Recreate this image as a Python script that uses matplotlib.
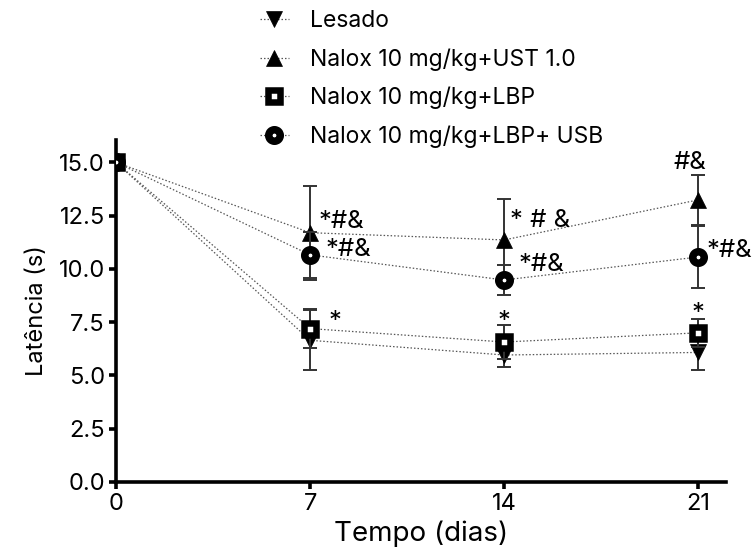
import matplotlib
matplotlib.use("Agg")
import matplotlib.pyplot as plt
from matplotlib.lines import Line2D

plt.rcParams['font.family'] = ['Inter', 'DejaVu Sans']

# Time points (days)
days = [0, 7, 14, 21]

groups = ["Lesado", "Nalox 10 mg/kg+UST 1.0", "Nalox 10 mg/kg+LBP",
          "Nalox 10 mg/kg+LBP+ USB"]

# Mean latency (s) and error per group
lesado_mean = [15.0, 6.65, 5.96, 6.08]
lesado_err = [0.0, 1.40, 0.56, 0.84]
ust_mean = [15.0, 11.70, 11.36, 13.24]
ust_err = [0.0, 2.20, 1.94, 1.17]
lbp_mean = [15.0, 7.20, 6.57, 7.00]
lbp_err = [0.0, 0.90, 0.80, 0.65]
usb_mean = [15.0, 10.66, 9.48, 10.56]
usb_err = [0.0, 1.08, 0.70, 1.46]

# Significance marks: (day, group index, text)
marks = [
    (7, 1, "*#&"), (7, 3, "*#&"), (7, 2, "*"),
    (14, 1, "* # &"), (14, 3, "*#&"), (14, 2, "*"),
    (21, 1, "#&"), (21, 3, "*#&"), (21, 2, "*"),
]

yticks = [0.0, 2.5, 5.0, 7.5, 10.0, 12.5, 15.0]
xticks = [0, 7, 14, 21]

fig = plt.figure(figsize=(7.56, 5.52), dpi=100)
ax = fig.add_axes([116 / 756, 70 / 552, 610 / 756, 342 / 552])

means = [lesado_mean, ust_mean, lbp_mean, usb_mean]
errs = [lesado_err, ust_err, lbp_err, usb_err]

line_kw = dict(color="#555555", lw=0.9, ls=(0, (1.2, 1.6)))
err_kw = dict(ecolor="#333333", elinewidth=1.4, capsize=5, capthick=1.4)

marker_styles = [
    dict(marker="v", ms=11.5, mfc="black", mec="black", mew=0.5),
    dict(marker="^", ms=11.5, mfc="black", mec="black", mew=0.5),
    dict(marker="s", ms=8.3, mfc="white", mec="black", mew=4.7),
    dict(marker="o", ms=8.3, mfc="white", mec="black", mew=5.4),
]
zorders = [3, 4, 5, 6]

for m, e, ms_kw, z in zip(means, errs, marker_styles, zorders):
    ax.errorbar(days, m, yerr=e, fmt="none", zorder=z - 0.5, **err_kw)
    ax.plot(days, m, zorder=z - 1, **line_kw)
    ax.plot(days, m, ls="none", zorder=z, **ms_kw)

# Offsets (points) for the significance labels per group
offsets = {
    (7, 1): (6, 8, "left"), (7, 3): (11, 4, "left"), (7, 2): (13, 5, "left"),
    (14, 1): (4, 14, "left"), (14, 3): (10, 11, "left"), (14, 2): (0, 15, "center"),
    (21, 1): (-6, 27, "center"), (21, 3): (6, 5, "left"), (21, 2): (0, 14, "center"),
}
for day, gi, txt in marks:
    idx = days.index(day)
    dx, dy, ha = offsets[(day, gi)]
    ax.annotate(txt, xy=(day, means[gi][idx]), xytext=(dx, dy),
                textcoords="offset points", ha=ha, va="center",
                fontsize=18.5, color="black", zorder=10)

ax.set_xlim(0, 22.0)
ax.set_ylim(0, 16.05)
ax.set_xticks(xticks)
ax.set_xticklabels([str(t) for t in xticks])
ax.set_yticks(yticks)
ax.set_yticklabels([f"{t:.1f}" for t in yticks])

for side in ("top", "right"):
    ax.spines[side].set_visible(False)
for side in ("left", "bottom"):
    ax.spines[side].set_linewidth(2.6)
ax.tick_params(axis="both", direction="out", length=5, width=2.6,
               labelsize=17, pad=3)
ax.tick_params(axis="x", pad=3)

ax.set_xlabel("Tempo (dias)", fontsize=20, labelpad=4)
ax.set_ylabel("Latência (s)", fontsize=17, labelpad=8)

handles = []
for ms_kw in marker_styles:
    handles.append(Line2D([0], [0], **line_kw, **ms_kw))
fig.legend(handles, groups, loc="upper left",
           bbox_to_anchor=(260 / 756, 1 - 10 / 552), frameon=False,
           fontsize=16.5, handlelength=1.25, handletextpad=0.95,
           labelspacing=0.7, borderpad=0, borderaxespad=0)

fig.savefig("out.png", dpi=100)
